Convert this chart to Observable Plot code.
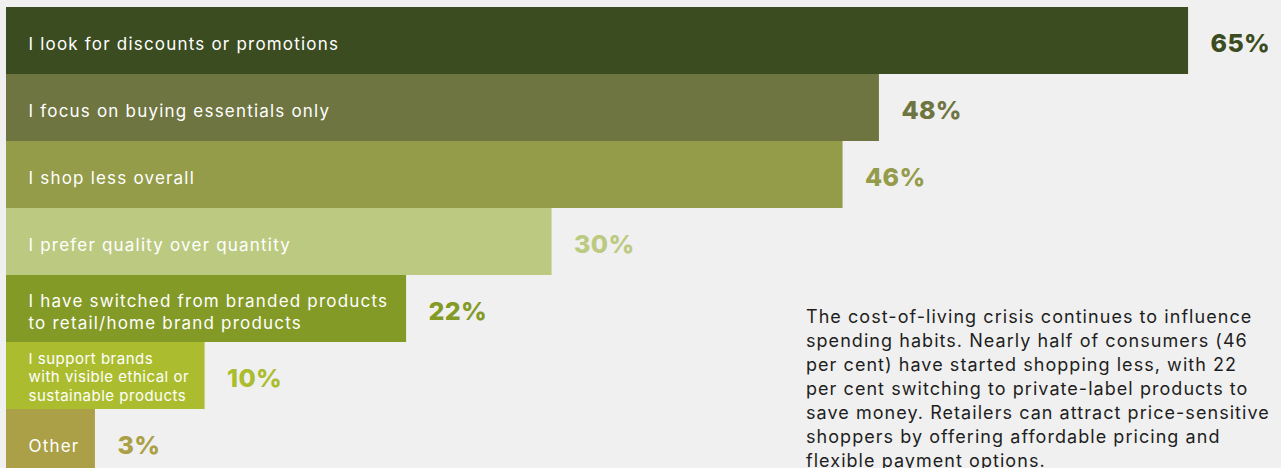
<!DOCTYPE html>
<html><head><meta charset="utf-8">
<script src="https://cdn.jsdelivr.net/npm/d3@7"></script>
<script src="https://cdn.jsdelivr.net/npm/@observablehq/plot@0.6"></script>
<style>
html,body{margin:0;padding:0;background:#f0f0f0;overflow:hidden;width:1281px;height:468px}
#chart{position:absolute;left:0;top:0}
#note{position:absolute;left:806px;top:305px;font:18px/24px Inter, sans-serif;letter-spacing:1.05px;color:#1e1e1e;white-space:pre}
</style></head><body>
<div id="chart"></div>
<div id="note"></div>
<script>
const categories = [
  "I look for discounts or promotions",
  "I focus on buying essentials only",
  "I shop less overall",
  "I prefer quality over quantity",
  "I have switched from branded products\nto retail/home brand products",
  "I support brands\nwith visible ethical or\nsustainable products",
  "Other"
];
const values = [65, 48, 46, 30, 22, 10, 3];
const colors = ["#3c4c21", "#6e7541", "#949c4a", "#bcca81", "#849a27", "#abbd2f", "#aba047"];
const noteLines = [
  "The cost-of-living crisis continues to influence",
  "spending habits. Nearly half of consumers (46",
  "per cent) have started shopping less, with 22",
  "per cent switching to private-label products to",
  "save money. Retailers can attract price-sensitive",
  "shoppers by offering affordable pricing and",
  "flexible payment options."
];

document.getElementById("note").textContent = noteLines.join("\n");

const W = 1281, ML = 6, MR = 2, XMAX = 70;
const unitsPerPx = XMAX / (W - ML - MR);
const ctx = document.createElement("canvas").getContext("2d");
function labelSize(lbl) { return lbl.split("\n").length > 2 ? 15 : 17; }
function letterSpacing(lbl) { return labelSize(lbl) === 15 ? 0.5 : 1.2; }
function minUnits(lbl) {
  ctx.font = labelSize(lbl) + "px Inter";
  const ls = letterSpacing(lbl);
  const w = d3.max(lbl.split("\n"), l => ctx.measureText(l).width + ls * l.length);
  return (22 + w + 16) * unitsPerPx;
}
const data = categories.map((label, i) => ({
  label, value: values[i], color: colors[i],
  end: Math.max(values[i], minUnits(label))
}));

const chart = Plot.plot({
  width: W, height: 476,
  marginTop: 7, marginBottom: 0, marginLeft: ML, marginRight: MR,
  x: {domain: [0, XMAX], axis: null},
  y: {domain: categories, padding: 0, axis: null},
  color: {type: "identity"},
  style: {fontFamily: "Inter, sans-serif", background: "transparent", overflow: "visible"},
  marks: [
    Plot.barX(data, {x1: 0, x2: "end", y: "label", fill: "color"}),
    Plot.text(data.filter(d => labelSize(d.label) === 17), {x: 0, y: "label", text: "label", dx: 22, dy: 1.5, textAnchor: "start", fill: "white", fontSize: 17, lineHeight: 1.3, fontWeight: 400}),
    Plot.text(data.filter(d => labelSize(d.label) === 15), {x: 0, y: "label", text: "label", dx: 22, dy: 0.5, textAnchor: "start", fill: "white", fontSize: 15, lineHeight: 1.22, fontWeight: 400}),
    Plot.text(data, {x: "end", y: "label", text: d => d.value + "%", dx: 22, dy: 3, textAnchor: "start", fill: "color", fontSize: 25, fontWeight: 800})
  ]
});
const groups = chart.querySelectorAll("g[aria-label='text']");
const spacings = ["1.2px", "0.5px", "0.3px"];
groups.forEach((g, i) => { g.style.letterSpacing = spacings[i]; });
document.getElementById("chart").appendChild(chart);
</script>
</body></html>
